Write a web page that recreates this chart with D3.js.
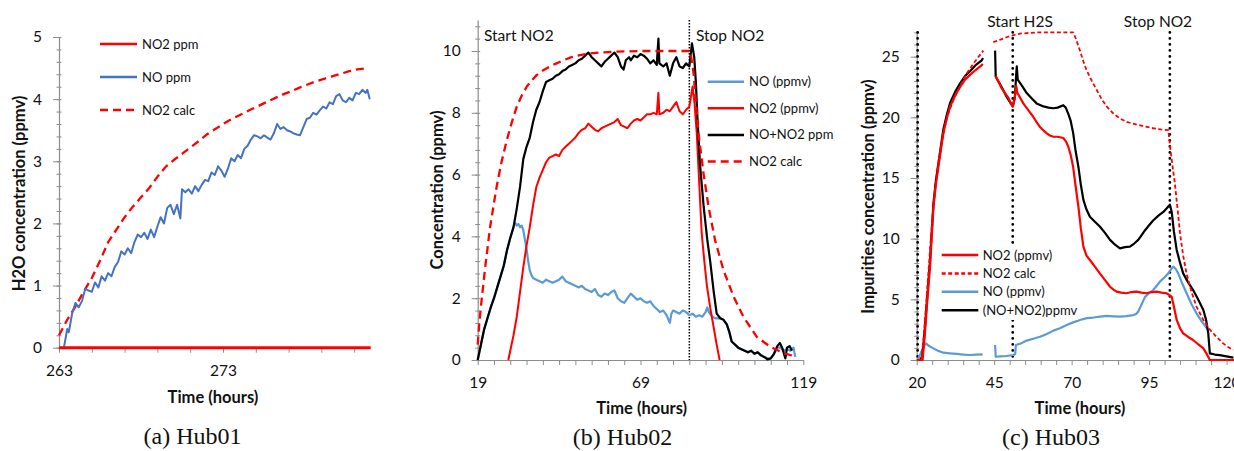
<!DOCTYPE html>
<html>
<head>
<meta charset="utf-8">
<script src="https://cdn.jsdelivr.net/npm/d3@7"></script>
<style>
  body { margin: 0; background: #fff; }
  svg { display: block; }
  text { font-family: Lato, "Open Sans", sans-serif; fill: #111; }
</style>
</head>
<body>
<svg id="chart" width="1234" height="451"></svg>
<script>
// ---------- Hub01 (time in hours, ppmv) ----------
const hub01NO2 = [[263, 0], [282, 0]];
const hub01NO = [
  [263.3,0],[263.5,0.3],[263.6,0.25],[263.8,0.55],[264.0,0.72],[264.2,0.65],[264.4,0.75],[264.6,0.95],
  [264.8,0.92],[265.0,0.9],[265.2,1.05],[265.4,0.97],[265.6,1.15],[265.8,1.08],[266.0,1.2],[266.2,1.15],
  [266.4,1.3],[266.6,1.38],[266.8,1.55],[267.0,1.5],[267.2,1.6],[267.4,1.52],[267.6,1.7],[267.8,1.82],
  [268.0,1.78],[268.2,1.85],[268.4,1.75],[268.6,1.9],[268.8,1.78],[269.0,1.95],[269.2,2.1],[269.4,2.0],
  [269.6,2.25],[269.8,2.3],[270.0,2.15],[270.2,2.3],[270.4,2.08],[270.5,2.55],[270.7,2.5],[270.9,2.55],
  [271.1,2.48],[271.3,2.6],[271.5,2.52],[271.7,2.62],[271.9,2.7],[272.1,2.68],[272.3,2.82],[272.5,2.78],
  [272.7,2.92],[272.9,2.85],[273.1,2.75],[273.3,2.88],[273.5,3.05],[273.7,3.0],[273.9,3.1],[274.1,3.05],
  [274.3,3.2],[274.5,3.25],[274.7,3.35],[274.9,3.42],[275.1,3.4],[275.3,3.37],[275.5,3.42],[275.7,3.38],
  [275.9,3.35],[276.1,3.45],[276.3,3.6],[276.5,3.52],[276.7,3.55],[276.9,3.5],[277.1,3.48],[277.3,3.45],
  [277.5,3.43],[277.7,3.42],[277.9,3.55],[278.1,3.68],[278.3,3.7],[278.5,3.78],[278.7,3.75],[278.9,3.82],
  [279.1,3.88],[279.3,3.85],[279.5,3.95],[279.7,3.92],[279.9,4.05],[280.1,4.08],[280.3,3.98],[280.5,3.95],
  [280.7,4.02],[280.9,3.98],[281.1,4.1],[281.3,4.08],[281.5,4.15],[281.7,4.1],[281.8,4.15],[281.95,4.0]
];
const hub01Calc = [
  [263,0.2],[263.5,0.45],[264,0.66],[264.5,0.9],[265,1.12],[265.5,1.4],[266,1.7],[266.5,1.9],[267,2.1],
  [267.5,2.27],[268,2.42],[268.5,2.57],[269,2.75],[269.5,2.91],[270,3.02],[270.5,3.12],[271,3.22],
  [271.6,3.34],[272,3.43],[272.6,3.53],[273,3.6],[273.6,3.69],[274,3.74],[274.6,3.82],[275,3.87],
  [275.7,3.96],[276.2,4.02],[276.7,4.08],[277.2,4.13],[277.7,4.19],[278.2,4.24],[278.7,4.29],[279.2,4.33],
  [279.7,4.37],[280.2,4.41],[280.7,4.45],[281.2,4.48],[281.8,4.5]
];

// ---------- Hub02 ----------
const hub02NO = [
  [19,0],[20,0.5],[21,1.0],[22,1.35],[23,1.7],[24,2.0],[25,2.35],[26,2.7],[27,3.05],[28,3.55],[29,3.95],
  [30,4.3],[30.5,4.45],[31,4.35],[31.5,4.4],[32,4.3],[32.5,4.35],[33,4.2],[33.5,3.9],[34,3.6],[34.5,3.2],
  [35,2.9],[35.5,2.75],[36,2.65],[37,2.6],[38,2.55],[39,2.5],[40,2.6],[41,2.55],[42,2.5],[43,2.55],[44,2.6],
  [45,2.7],[46,2.55],[47,2.5],[48,2.45],[49,2.4],[50,2.35],[51,2.4],[52,2.3],[53,2.25],[54,2.2],[55,2.3],
  [56,2.1],[57,2.05],[58,2.15],[59,2.1],[60,2.2],[61,2.25],[62,2.0],[63,1.9],[64,1.85],[65,2.0],[66,2.15],
  [67,2.05],[68,1.95],[69,2.0],[70,1.9],[71,1.85],[72,1.9],[73,1.75],[74,1.65],[75,1.55],[76,1.6],[77,1.45],
  [78,1.2],[78.5,1.5],[79,1.6],[80,1.55],[81,1.5],[82,1.6],[83,1.55],[84,1.45],[85,1.5],[86,1.4],[87,1.45],
  [88,1.4],[89,1.55],[89.5,1.7],[90,1.55],[91,1.4],[92,1.35],[93.5,1.35],[94.5,1.3],[95.5,1.15],[96.3,0.9],
  [97,0.6],[98,0.5],[99,0.4],[100,0.35],[101,0.3],[102,0.25],[103,0.3],[104,0.2],[105,0.25],[106,0.15],
  [107,0.1],[108,0.05],[109,0.05],[110,0.2],[111,0.4],[112,0.4],[113,0.3],[114,0.35],[115,0.3],[116,0.4],[116.5,0.1]
];
const hub02NO2 = [
  [28.4,0],[29,0.3],[30,0.8],[31,1.4],[32,2.2],[33,3.0],[34,3.7],[35,4.3],[36,5.0],[37,5.6],[38,5.9],
  [39,6.15],[40,6.4],[41,6.55],[42,6.6],[43,6.65],[44,6.6],[45,6.8],[46,6.9],[47,7.0],[48,7.1],[49,7.2],
  [50,7.35],[51,7.45],[52,7.5],[53,7.65],[54,7.55],[55,7.45],[56,7.4],[57,7.5],[58,7.55],[59,7.6],[60,7.65],
  [61,7.7],[62,7.8],[63,7.6],[64,7.55],[65,7.5],[66,7.65],[67,7.75],[68,7.8],[69,7.75],[70,7.85],[71,7.95],
  [72,7.95],[73,8.0],[74,7.95],[74.5,8.65],[74.8,7.95],[76,8.0],[77,8.1],[78,8.05],[79,8.2],[80,8.35],
  [81,8.05],[82,7.95],[83,8.1],[84,8.2],[85,8.85],[85.6,8.3],[86.3,7.3],[87,5.8],[87.8,4.1],[88.6,3.2],
  [89.4,2.4],[90.4,1.7],[91.4,1.1],[92.4,0.5],[93.3,0]
];
const hub02Total = [
  [19,0],[20,0.5],[21,1.0],[22,1.35],[23,1.7],[24,2.0],[25,2.35],[26,2.7],[27,3.05],[28,3.55],[29,3.95],
  [30,4.3],[31,4.9],[32,5.6],[33,6.5],[34,6.9],[35,7.2],[36,7.7],[37,8.1],[38,8.35],[39,8.7],[40,9.0],
  [41,9.05],[42,9.1],[43,9.2],[44,9.25],[45,9.35],[46,9.4],[47,9.5],[48,9.55],[49,9.6],[50,9.7],[51,9.75],
  [52,9.85],[53,9.95],[54,9.8],[55,9.7],[56,9.6],[57,9.5],[58,9.65],[59,9.75],[60,9.85],[61,9.95],[62,9.8],
  [63,9.5],[63.8,9.4],[64.5,9.7],[65.5,9.8],[66,9.7],[67,9.85],[68,9.8],[69,9.9],[70,9.85],[71,9.75],
  [72,9.6],[73,9.7],[74,9.55],[74.5,10.4],[74.8,9.6],[76,9.5],[77,9.6],[78,9.2],[79,9.6],[80,9.8],[81,9.5],
  [82,9.45],[83,9.6],[84,9.5],[84.8,10.25],[85.5,9.8],[86,9.0],[86.5,7.8],[87.3,6.3],[88.4,4.96],[89.5,3.9],
  [90.4,3.2],[91.5,2.2],[92.4,1.5],[93.5,1.35],[94.5,1.3],[95.5,1.15],[96.3,0.9],[97,0.6],[98,0.5],[99,0.4],
  [100,0.35],[101,0.3],[102,0.25],[103,0.3],[104,0.2],[105,0.25],[106,0.15],[107,0.1],[108,0.02],[109,0.05],
  [110,0.2],[111,0.45],[111.8,0.55],[112.5,0.4],[113.5,0.05],[114,0.4],[114.8,0.45],[115.5,0.3]
];
const hub02Calc = [
  [19,0.5],[19.5,1.2],[20.2,1.94],[21.3,3.0],[22.8,4.3],[24.8,5.6],[26.3,6.4],[27.9,7.1],[29.5,7.7],
  [31,8.2],[32.5,8.55],[34.1,8.85],[35.6,9.05],[37.1,9.22],[39,9.37],[41.2,9.5],[43.2,9.6],[45.3,9.7],
  [47.8,9.8],[50.4,9.87],[53.5,9.92],[56.6,9.95],[62,9.98],[69.9,10],[84.3,10],[85.3,9.28],[86.8,7.34],
  [88.4,6.0],[89.9,4.96],[91.9,3.88],[94.5,2.9],[97.6,2.05],[100.6,1.4],[104.7,0.75],[108.8,0.43],[113,0.22],[117,0.1]
];
const hub02Events = [84];
const hub02EventLabels = ["Start NO2", "Stop NO2"];

// ---------- Hub03 (null = gap in the record) ----------
const hub03NO2 = [
  [20,0],[21.9,0],[22.6,2],[23.3,4.5],[24.3,7.7],[25.4,12.6],[26.2,14.5],[27,15.9],[28.6,18.7],[29.7,19.9],
  [30.8,20.9],[32.4,21.8],[34,22.5],[35.6,23.1],[37.2,23.5],[39,23.9],[41,24.3],[41.3,24.4],[43,null],
  [45.5,23.4],[46.5,22.9],[47.4,22.4],[48.5,22.0],[49.6,21.6],[50.5,21.1],[51,20.9],[51.6,21.5],[52.1,22.6],
  [52.5,22.0],[53.4,21.6],[54.4,21.15],[56,20.6],[57.6,20.05],[58.7,19.6],[59.8,19.2],[61,18.9],[61.9,18.7],
  [63,18.5],[64.1,18.4],[65.5,18.4],[67.3,18.3],[68.2,18.0],[68.9,17.6],[69.7,16.9],[70.5,15.9],[71.3,14.3],
  [72.2,12.6],[73,10.8],[73.8,9.34],[74.8,8.6],[75.9,8.24],[77.5,7.7],[79.1,7.14],[80.7,6.6],[82.4,6.04],
  [83.5,5.8],[84.5,5.63],[86,5.55],[87.7,5.5],[89.3,5.6],[90.9,5.63],[92.5,5.55],[94.2,5.5],[95.8,5.6],
  [97.4,5.63],[99,5.55],[100.6,5.5],[101.6,5.35],[102.3,5.2],[103,4.4],[103.9,3.3],[105,2.6],[106,2.2],
  [107.6,1.9],[109.2,1.65],[110.8,1.3],[112.5,0.96],[113.6,0.5],[114.6,0],[122.4,0]
];
const hub03Calc = [
  [21.5,0],[22.3,2],[23,4.5],[24,8],[25,11.5],[26,14.2],[27,16.3],[28.5,18.5],[30,20.2],[31.8,21.4],
  [34,22.6],[36.1,23.6],[38.5,24.5],[41.5,25.5],[43,null],[44.7,26.2],[47,26.4],[49,26.6],[51,26.75],
  [53.3,26.9],[56,26.95],[58.7,27],[65,27],[70.5,27],[71.5,26.4],[72.7,25.5],[73.8,24.6],[74.8,23.9],
  [76.5,23],[78.1,22.25],[79.7,21.5],[81.3,20.9],[83.5,20.3],[85.6,19.9],[88,19.6],[91,19.4],[93.5,19.25],
  [96.3,19.1],[98.8,19.0],[101.2,18.95],[101.9,17.3],[102.6,15.9],[103.3,14.6],[104.2,12.4],[105,10.4],
  [106,8.6],[107.1,7.1],[108.7,5.6],[110.3,4.4],[112.5,3.3],[114.6,2.5],[116.8,1.9],[118.9,1.37],
  [120.6,1.05],[122.2,0.82]
];
const hub03NO = [
  [20.3,0],[21.2,0.5],[22.2,1.1],[23,1.37],[24,1.15],[25.4,0.96],[27,0.75],[28.6,0.6],[30.7,0.55],
  [32.9,0.5],[35,0.45],[37.2,0.41],[39.2,0.45],[41.3,0.47],[43,null],[45.3,1.24],[45.5,0.27],[47,0.3],
  [49,0.33],[51.2,0.41],[51.8,0.5],[52,1.24],[53.5,1.35],[55.5,1.6],[57.6,1.75],[59.8,1.92],[62,2.15],
  [64.1,2.42],[66.2,2.62],[68.4,2.88],[70.5,3.1],[72.7,3.3],[74.9,3.45],[77,3.5],[79.2,3.58],[81.3,3.63],
  [83.4,3.6],[85.6,3.57],[87.7,3.62],[89.9,3.7],[90.8,3.8],[91.5,4.0],[92.6,4.6],[93.7,5.2],[95,5.5],
  [96.3,5.77],[97.4,6.1],[98.5,6.46],[99.9,6.8],[101.2,7.14],[102,7.45],[102.8,7.7],[103.6,7.5],
  [104.4,7.14],[105.7,6.3],[107.1,5.5],[108.7,4.6],[110.3,3.85],[112.2,3.1],[114.1,2.47]
];
const hub03Total = [
  [20.3,0],[21.1,0],[21.8,0.3],[22.5,2.2],[23.2,4.5],[24.3,8.2],[25.4,12.9],[26.2,14.8],[27,16.2],
  [28.6,19],[29.7,20.2],[30.8,21.2],[32.4,22.1],[34,22.8],[35.6,23.4],[37.2,23.8],[39,24.3],[41,24.7],
  [41.4,24.9],[43,null],[45.3,25.5],[45.5,23.35],[46.5,22.9],[47.4,22.5],[48.2,22.1],[49,21.7],[50,21.3],
  [51,20.9],[51.7,21.7],[52.1,23.5],[52.3,24.2],[52.6,23.1],[54,22.6],[55.5,22],[57,21.6],[58.7,21.15],
  [60,21.0],[60.9,20.9],[62.5,20.8],[64.1,20.75],[65.5,20.8],[67.3,21.0],[68.1,20.8],[68.9,20.3],
  [69.7,19.7],[70.5,18.7],[71.3,17.2],[72.2,15.9],[73,14.4],[73.8,13.2],[74.8,12.4],[75.9,11.8],
  [77.5,11.4],[79.1,11],[80.7,10.5],[82.4,9.9],[84,9.5],[85.6,9.2],[87.2,9.3],[88.8,9.34],[90.2,9.6],
  [91.5,9.9],[92.6,10.3],[93.7,10.7],[95,11.1],[96.3,11.5],[98,11.9],[99.6,12.2],[100.7,12.5],[101.7,12.8],
  [102.3,12.2],[103,10.6],[103.9,9.07],[105,8.0],[106,7.14],[107.6,6.4],[109.2,5.77],[110.8,5.0],
  [112.5,4.12],[113.4,3.3],[114.1,2.2],[114.4,1.2],[114.6,0.55],[116.2,0.45],[117.8,0.4],[120,0.3],[122.2,0.2]
];
const hub03Events = [20.3, 51, 101.7];
const hub03EventLabels = ["Start H2S", "Stop NO2"];

// tick labels
const hub01XTicks = [263, 273];
const hub02XTicks = [19, 69, 119];
const hub03XTicks = [20, 45, 70, 95, 120];

const RED = '#ff0000', BLUE = '#4472c4', LBLUE = '#5b9bd5', BLACK = '#000000';
const axisColor = '#8c8c8c';
const svg = d3.select('#chart');

function drawPanel(p) {
  const x = d3.scaleLinear().domain(p.xDomain).range(p.xRange);
  const y = d3.scaleLinear().domain(p.yDomain).range(p.yRange);
  const g = svg.append('g');
  const x0 = p.xRange[0], y0 = p.yRange[0];

  // y minor ticks (cross the axis)
  g.append('g')
    .attr('transform', `translate(${x0 + 2.5},0)`)
    .call(d3.axisLeft(y).tickValues(p.yMinor).tickSize(5).tickFormat(''))
    .call(a => a.select('.domain').remove())
    .call(a => a.selectAll('line').attr('stroke', axisColor));

  // y major
  g.append('g')
    .attr('transform', `translate(${x0},0)`)
    .call(d3.axisLeft(y).tickValues(p.yTicks).tickSize(6).tickSizeOuter(0).tickPadding(11)
      .tickFormat(d3.format('d')))
    .call(a => a.select('.domain').attr('stroke', axisColor).attr('stroke-width', 1.2))
    .call(a => a.selectAll('.tick line').attr('stroke', axisColor))
    .call(a => a.selectAll('.tick text').attr('font-size', 15.5).attr('font-family', 'Lato').attr('fill', '#111'));

  // x axis, ticks pointing down
  g.append('g')
    .attr('transform', `translate(0,${y0})`)
    .call(d3.axisBottom(x).tickValues(p.xMinor).tickSize(5).tickSizeOuter(0).tickPadding(12)
      .tickFormat(d => p.xTicks.includes(d) ? d : ''))
    .call(a => a.select('.domain').attr('stroke', axisColor).attr('stroke-width', 1.2))
    .call(a => a.selectAll('.tick line').attr('stroke', axisColor))
    .call(a => a.selectAll('.tick text').attr('font-size', 15.5).attr('font-family', 'Lato').attr('fill', '#111'));

  // event markers
  (p.events || []).forEach(t => {
    g.append('line')
      .attr('x1', x(t)).attr('x2', x(t))
      .attr('y1', y(p.yDomain[1])).attr('y2', y0)
      .attr('stroke', '#000')
      .attr('stroke-width', p.eventWidth)
      .attr('stroke-dasharray', p.eventDash)
      .attr('stroke-linecap', p.eventCap || 'butt');
  });

  // series
  const line = d3.line()
    .defined(d => d[1] !== null)
    .x(d => x(d[0]))
    .y(d => y(d[1]));
  p.series.forEach(s => {
    g.append('path')
      .datum(s.data)
      .attr('fill', 'none')
      .attr('stroke', s.color)
      .attr('stroke-width', s.width)
      .attr('stroke-dasharray', s.dash || null)
      .attr('stroke-linejoin', 'round')
      .attr('d', line);
  });

  // event labels
  (p.eventText || []).forEach(e => {
    g.append('text').attr('x', e.x).attr('y', e.y)
      .attr('font-size', 15.5).attr('text-anchor', e.anchor || 'start').text(e.text);
  });

  // legend
  const L = p.legend;
  const lg = g.append('g');
  if (L.box) {
    lg.append('rect').attr('x', L.box[0]).attr('y', L.box[1])
      .attr('width', L.box[2]).attr('height', L.box[3]).attr('fill', '#fff');
  }
  L.order.forEach((s, i) => {
    const yy = L.y0 + i * L.dy;
    lg.append('line')
      .attr('x1', L.x1).attr('x2', L.x2).attr('y1', yy).attr('y2', yy)
      .attr('stroke', s.color).attr('stroke-width', s.legendWidth || 2.5)
      .attr('stroke-dasharray', s.legendDash || s.dash || null);
    lg.append('text')
      .attr('x', L.tx).attr('y', yy).attr('dy', '0.35em')
      .attr('font-size', 13).text(s.name);
  });

  // axis titles
  g.append('text')
    .attr('x', p.xTitle[0]).attr('y', p.xTitle[1]).attr('dy', '0.35em')
    .attr('text-anchor', 'middle').attr('font-weight', 'bold').attr('font-size', 16.5)
    .text('Time (hours)');
  g.append('text')
    .attr('transform', `translate(${p.yTitle[0]},${p.yTitle[1]}) rotate(-90)`)
    .attr('dy', '0.35em')
    .attr('text-anchor', 'middle').attr('font-weight', 'bold').attr('font-size', 16.5)
    .text(p.yTitle[2]);

  // caption
  g.append('text')
    .attr('x', p.caption[0]).attr('y', p.caption[1]).attr('dy', '0.35em')
    .attr('text-anchor', 'middle')
    .style('font-family', '"Liberation Serif", "Times New Roman", serif')
    .attr('font-size', 24)
    .text(p.caption[2]);
}

// Hub01
const a1 = { name: 'NO2 ppm', data: hub01NO2, color: RED, width: 3 };
const a2 = { name: 'NO ppm', data: hub01NO, color: BLUE, width: 2 };
const a3 = { name: 'NO2 calc', data: hub01Calc, color: RED, width: 2.3, dash: '8,5' };
drawPanel({
  xDomain: [263, 282], xRange: [59, 370.6],
  yDomain: [0, 5], yRange: [347.7, 37],
  xTicks: hub01XTicks, xMinor: d3.range(263, 282, 2),
  yTicks: d3.range(0, 6, 1), yMinor: d3.range(0, 5.01, 0.2),
  series: [a3, a2, a1],
  legend: { x1: 100, x2: 137, tx: 142, y0: 44, dy: 33, order: [a1, a2, a3] },
  xTitle: [213, 397], yTitle: [19, 193.5, 'H2O concentration (ppmv)'],
  caption: [192.5, 436, '(a) Hub01']
});

// Hub02
const b1 = { name: 'NO (ppmv)', data: hub02NO, color: LBLUE, width: 2.2 };
const b2 = { name: 'NO2 (ppmv)', data: hub02NO2, color: RED, width: 2 };
const b3 = { name: 'NO+NO2 ppm', data: hub02Total, color: BLACK, width: 2.2 };
const b4 = { name: 'NO2 calc', data: hub02Calc, color: RED, width: 2.3, dash: '8,5' };
drawPanel({
  xDomain: [19, 119], xRange: [477.7, 803.3],
  yDomain: [0, 11], yRange: [360, 20.1],
  xTicks: hub02XTicks, xMinor: d3.range(19, 120, 5),
  yTicks: d3.range(0, 11, 2), yMinor: d3.range(0, 10.9, 0.4),
  events: hub02Events, eventWidth: 1.5, eventDash: '1.5,1.5',
  series: [b1, b2, b3, b4],
  eventText: [
    { x: 484, y: 41, text: hub02EventLabels[0] },
    { x: 696, y: 41, text: hub02EventLabels[1] }
  ],
  legend: { x1: 707.7, x2: 744, tx: 749, y0: 81.7, dy: 26.6, order: [b1, b2, b3, b4] },
  xTitle: [641.7, 408], yTitle: [437.7, 190, 'Concentration (ppmv)'],
  caption: [622.5, 437, '(b) Hub02']
});

// Hub03
const c1 = { name: 'NO2 (ppmv)', data: hub03NO2, color: RED, width: 2.2 };
const c2 = { name: 'NO2 calc', data: hub03Calc, color: RED, width: 1.8, dash: '4,2.5' };
const c3 = { name: 'NO (ppmv)', data: hub03NO, color: LBLUE, width: 2.2 };
const c4 = { name: '(NO+NO2)ppmv', data: hub03Total, color: BLACK, width: 2.2 };
drawPanel({
  xDomain: [20, 122.4], xRange: [916.7, 1234],
  yDomain: [0, 27], yRange: [360, 32.4],
  xTicks: hub03XTicks, xMinor: d3.range(20, 122, 5),
  yTicks: d3.range(0, 26, 5), yMinor: d3.range(0, 27.1, 1),
  events: hub03Events, eventWidth: 2.8, eventDash: '0,6', eventCap: 'round',
  series: [c3, c4, c1, c2],
  eventText: [
    { x: 1020, y: 27, text: hub03EventLabels[0], anchor: 'middle' },
    { x: 1158, y: 27, text: hub03EventLabels[1], anchor: 'middle' }
  ],
  legend: { x1: 941.7, x2: 978.3, tx: 982.7, y0: 255, dy: 18.4,
            box: [936, 244, 142, 76], order: [c1, c2, c3, c4] },
  xTitle: [1080, 408], yTitle: [868.3, 196.5, 'Impurities concentration (ppmv)'],
  caption: [1051, 437, '(c) Hub03']
});
</script>
</body>
</html>
